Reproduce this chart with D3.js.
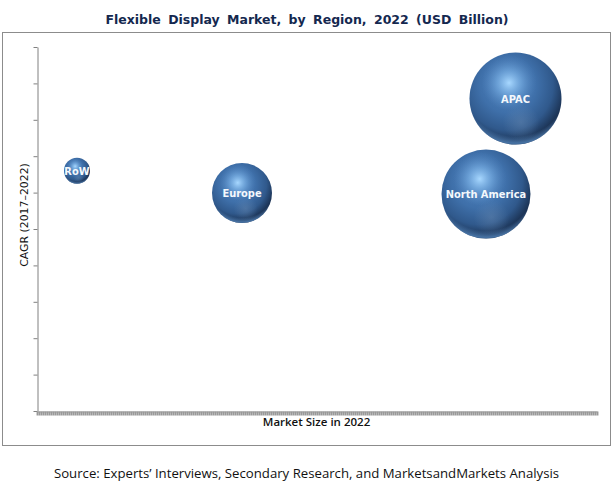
<!DOCTYPE html>
<html><head><meta charset="utf-8">
<script src="https://cdnjs.cloudflare.com/ajax/libs/d3/7.8.5/d3.min.js"></script>
<style>html,body{margin:0;padding:0;background:#fff;overflow:hidden}svg{display:block}</style>
</head><body><svg id="c" width="615" height="484"></svg>
<script>
const regions = ["RoW","Europe","North America","APAC"];
const marketSize = [4.0,20.5,44.9,47.85];
const cagr = [6.6,5.99,5.96,8.585];
const bubbleSize = [1.69,9,19.8,21.16];
const yTicks = [0,1,2,3,4,5,6,7,8,9,10];
const xTicks = d3.range(0,56.01,0.2);

const svg = d3.select("#c");
const x = d3.scaleLinear().domain([0,56]).range([37,597]);
const y = d3.scaleLinear().domain([0,10]).range([411,47]);
const r = d3.scaleSqrt().domain([0,25]).range([0,50]);

svg.append("rect").attr("x",2.5).attr("y",32.5).attr("width",608).attr("height",413)
  .attr("fill","#fff").attr("stroke","#8c8c8c").attr("stroke-width",1);

const defs = svg.append("defs");
const base = defs.append("radialGradient").attr("id","sphere")
  .attr("cx","0.42").attr("cy","0.36").attr("r","0.68").attr("fx","0.42").attr("fy","0.34");
[[0,"#4f82bd"],[0.45,"#3f70aa"],[0.72,"#30598c"],[0.9,"#1d3659"],[1,"#1a2e4c"]]
  .forEach(s=>base.append("stop").attr("offset",s[0]).attr("stop-color",s[1]));
const hi = defs.append("radialGradient").attr("id","hi")
  .attr("cx","0.43").attr("cy","0.33").attr("r","0.3");
[[0,"#a8d8ff",1],[0.45,"#7db4e8",0.6],[1,"#5a8ec8",0]]
  .forEach(s=>hi.append("stop").attr("offset",s[0]).attr("stop-color",s[1]).attr("stop-opacity",s[2]));
const glow = defs.append("radialGradient").attr("id","glow")
  .attr("cx","0.56").attr("cy","0.76").attr("r","0.2");
[[0,"#6f8fb5",0.4],[1,"#6f8fb5",0]]
  .forEach(s=>glow.append("stop").attr("offset",s[0]).attr("stop-color",s[1]).attr("stop-opacity",s[2]));
const rim = defs.append("radialGradient").attr("id","rim")
  .attr("cx","0.5").attr("cy","0.34").attr("r","0.68");
[[0,"#5d8fc6",0],[0.84,"#5d8fc6",0],[0.95,"#5a8ec6",0.7],[1,"#3c6ea6",0.5]]
  .forEach(s=>rim.append("stop").attr("offset",s[0]).attr("stop-color",s[1]).attr("stop-opacity",s[2]));

// axes
const gy = svg.append("g").attr("transform","translate(37.5,0)")
  .call(d3.axisLeft(y).tickValues(yTicks).tickFormat("").tickSize(4).tickSizeOuter(0));
gy.selectAll("line,path").attr("stroke","#808080").attr("stroke-width",1);
const gx = svg.append("g").attr("transform","translate(0,411.5)")
  .call(d3.axisBottom(x).tickValues(xTicks).tickFormat("").tickSize(4).tickSizeOuter(0));
gx.selectAll("path").attr("stroke","#999").attr("stroke-width",1);
gx.selectAll("line").attr("stroke","#999").attr("stroke-width",1.9);

// bubbles
const idx = d3.range(regions.length);
const bubbles = svg.append("g").selectAll("g").data(idx).join("g")
  .attr("transform",i=>`translate(${x(marketSize[i])},${y(cagr[i])})`);
["sphere","glow","hi","rim"].forEach(id=>{
  bubbles.append("circle").attr("r",i=>r(bubbleSize[i])).attr("fill",`url(#${id})`);
});
bubbles.append("text").text(i=>regions[i])
  .attr("text-anchor","middle").attr("y",4)
  .attr("font-family","'DejaVu Sans',Verdana,sans-serif").attr("font-weight","bold")
  .attr("font-size",9.9).attr("fill","#f4f8fc");

svg.append("text").attr("x",307).attr("y",24).attr("text-anchor","middle")
  .attr("font-family","'DejaVu Sans',Verdana,sans-serif").attr("font-weight","bold")
  .attr("font-size",12.5).attr("fill","#14284f").attr("word-spacing",3)
  .text("Flexible Display Market, by Region, 2022 (USD Billion)");
svg.append("text").attr("transform","translate(28,215) rotate(-90)").attr("text-anchor","middle")
  .attr("font-family","'DejaVu Sans',Verdana,sans-serif").attr("font-size",10.9).attr("fill","#111")
  .text("CAGR (2017–2022)");
svg.append("text").attr("x",316.5).attr("y",426).attr("text-anchor","middle")
  .attr("font-family","'Open Sans',sans-serif").attr("font-weight","600")
  .attr("font-size",11.5).attr("fill","#111")
  .text("Market Size in 2022");
svg.append("text").attr("x",306.5).attr("y",478).attr("text-anchor","middle")
  .attr("font-family","'Open Sans',sans-serif")
  .attr("font-size",13.2).attr("fill","#111")
  .text("Source: Experts’ Interviews, Secondary Research, and MarketsandMarkets Analysis");
</script></body></html>
